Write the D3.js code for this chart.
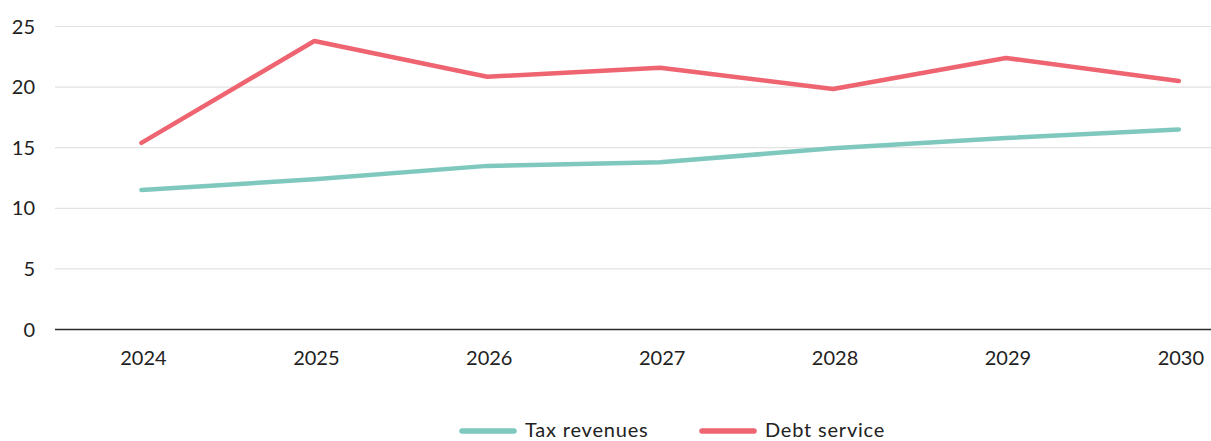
<!DOCTYPE html>
<html>
<head>
<meta charset="utf-8">
<script src="https://cdn.jsdelivr.net/npm/d3@7"></script>
<style>
  html, body { margin: 0; padding: 0; background: #ffffff; }
  svg { display: block; font-family: Lato, "Open Sans", sans-serif; }
</style>
</head>
<body>
<svg id="chart" width="1211" height="441"></svg>
<script>
// Years on the horizontal axis
const years = ["2024", "2025", "2026", "2027", "2028", "2029", "2030"];
// Series values
const taxRevenues = [11.5, 12.4, 13.5, 13.8, 14.95, 15.8, 16.5];
const debtService = [15.4, 23.8, 20.85, 21.6, 19.85, 22.4, 20.5];
// Value axis ticks
const yTicks = [0, 5, 10, 15, 20, 25];

const series = [
  { name: "Tax revenues", values: taxRevenues, color: "#7ec8bd" },
  { name: "Debt service", values: debtService, color: "#ee6470" }
];

const svg = d3.select("#chart");
const W = 1211;
const plotLeft = 55, plotTop = 26.5, plotBottom = 329.5;
const step = 172.9;

const x = d3.scaleBand().domain(years).range([plotLeft, plotLeft + step * years.length]).paddingInner(0).paddingOuter(0);
const y = d3.scaleLinear().domain([0, 25]).range([plotBottom, plotTop]);

// Horizontal gridlines
svg.append("g")
  .selectAll("line")
  .data(yTicks.filter(d => d > 0))
  .join("line")
  .attr("x1", plotLeft).attr("x2", W)
  .attr("y1", d => y(d)).attr("y2", d => y(d))
  .attr("stroke", "#e2e2e2").attr("stroke-width", 1.2);

// Value axis labels
svg.append("g")
  .selectAll("text")
  .data(yTicks)
  .join("text")
  .attr("x", 35)
  .attr("y", d => y(d))
  .attr("dy", "0.35em")
  .attr("text-anchor", "end")
  .attr("font-size", 20)
  .attr("fill", "#222")
  .text(d => d);

// Baseline
svg.append("line")
  .attr("x1", plotLeft).attr("x2", W)
  .attr("y1", y(0)).attr("y2", y(0))
  .attr("stroke", "#2b2b2b").attr("stroke-width", 1.5);

// Year labels
svg.append("g")
  .selectAll("text")
  .data(years)
  .join("text")
  .attr("x", d => x(d) + x.bandwidth() / 2 + 2)
  .attr("y", 365)
  .attr("text-anchor", "middle")
  .attr("font-size", 20)
  .attr("fill", "#222")
  .text(d => d);

// Series lines
const line = d3.line()
  .x((d, i) => x(years[i]) + x.bandwidth() / 2)
  .y(d => y(d));

svg.append("g")
  .selectAll("path")
  .data(series)
  .join("path")
  .attr("d", s => line(s.values))
  .attr("fill", "none")
  .attr("stroke", s => s.color)
  .attr("stroke-width", 4.5)
  .attr("stroke-linecap", "round")
  .attr("stroke-linejoin", "round");

// Legend
const legendItems = [
  { name: series[0].name, color: series[0].color, x0: 462 },
  { name: series[1].name, color: series[1].color, x0: 702 }
];
const legend = svg.append("g").selectAll("g").data(legendItems).join("g")
  .attr("transform", d => `translate(${d.x0},431)`);
legend.append("line")
  .attr("x1", 0).attr("x2", 52)
  .attr("stroke", d => d.color)
  .attr("stroke-width", 5.5)
  .attr("stroke-linecap", "round");
legend.append("text")
  .attr("x", 63)
  .attr("y", 6)
  .attr("font-size", 20)
  .attr("letter-spacing", 0.8)
  .attr("fill", "#222")
  .text(d => d.name);
</script>
</body>
</html>
